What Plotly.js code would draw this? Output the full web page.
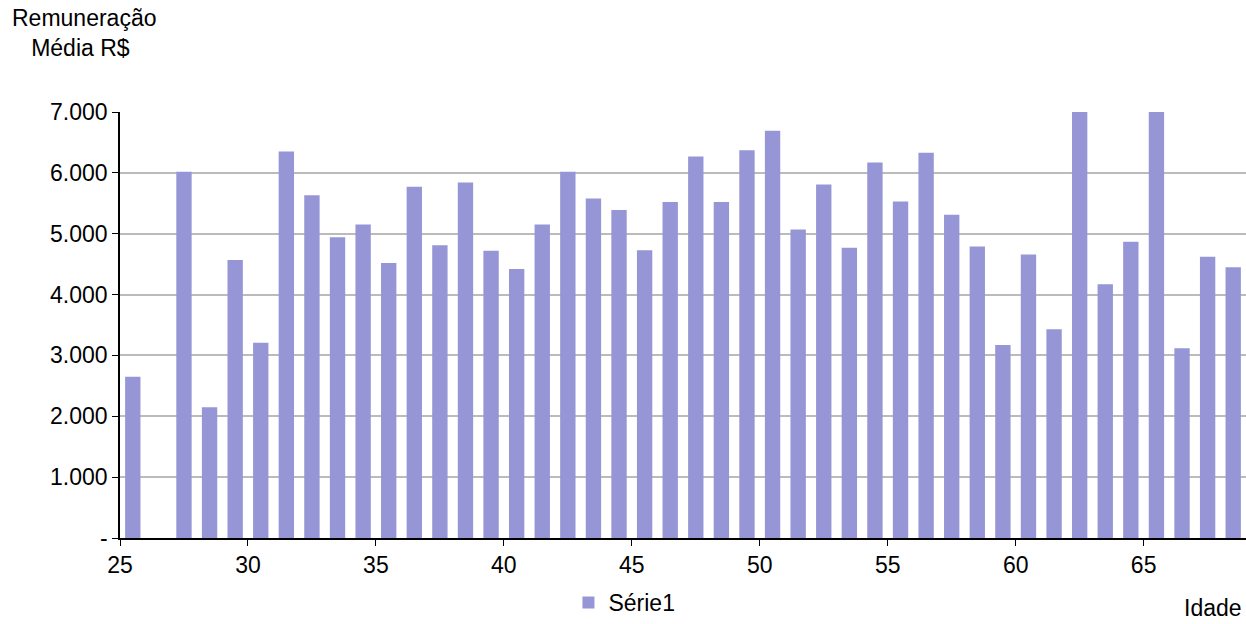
<!DOCTYPE html>
<html>
<head>
<meta charset="utf-8">
<script src="https://cdn.plot.ly/plotly-3.0.1.min.js"></script>
<style>html,body{margin:0;padding:0;background:#fff}#chart{width:1246px;height:624px}</style>
</head>
<body>
<div id="chart"></div>
<script>
const idades = [25,26,27,28,29,30,31,32,33,34,35,36,37,38,39,40,41,42,43,44,45,46,47,48,49,50,51,52,53,54,55,56,57,58,59,60,61,62,63,64,65,66,67,68];
const remuneracao = [2650,0,6020,2150,4570,3210,6350,5630,4940,5150,4520,5770,4810,5840,4720,4420,5150,6020,5580,5390,4730,5520,6270,5520,6370,6690,5070,5810,4770,6170,5530,6330,5310,4790,3170,4660,3430,7300,4170,4870,7300,3120,4620,4450];
const yTicks = [0,1000,2000,3000,4000,5000,6000,7000];
const yLabels = ['-','1.000','2.000','3.000','4.000','5.000','6.000','7.000'];
const xTicks = [25,30,35,40,45,50,55,60,65];

const fnt = {family: 'Liberation Sans, DejaVu Sans, sans-serif', size: 23, color: '#000'};

Plotly.newPlot('chart', [{
    x: idades,
    y: remuneracao,
    type: 'bar',
    name: 'Série1',
    width: 0.6,
    offset: 0.2,
    marker: {color: '#9696d6'}
}], {
    width: 1246, height: 624,
    margin: {l: 120, r: 0, t: 112, b: 86, autoexpand: false},
    paper_bgcolor: '#fff', plot_bgcolor: '#fff',
    font: fnt,
    showlegend: true,
    legend: {orientation: 'h', x: 0.448, xanchor: 'center', yref: 'container', y: 0.0, yanchor: 'bottom', font: fnt},
    xaxis: {
        range: [25, 69], tickvals: xTicks, ticktext: xTicks.map(String),
        showline: true, linecolor: '#000', linewidth: 1.5,
        ticks: 'outside', ticklen: 6, tickcolor: '#000',
        showgrid: false, zeroline: false, tickfont: fnt
    },
    yaxis: {
        range: [0, 7000], tickvals: yTicks, ticktext: yLabels,
        showline: true, linecolor: '#000', linewidth: 1.5,
        ticks: 'outside', ticklen: 6, tickcolor: '#000',
        showgrid: true, gridcolor: '#bbbbbb', gridwidth: 1.5,
        zeroline: false, tickfont: fnt
    },
    annotations: [
        {text: 'Remuneração<br>   Média R$', xref: 'paper', yref: 'paper', x: -0.098, y: 1.255,
         xanchor: 'left', yanchor: 'top', showarrow: false, align: 'left', font: fnt},
        {text: 'Idade', xref: 'paper', yref: 'paper', x: 0.998, y: -0.13,
         xanchor: 'right', yanchor: 'top', showarrow: false, font: fnt}
    ]
}, {displayModeBar: false});
</script>
</body>
</html>
